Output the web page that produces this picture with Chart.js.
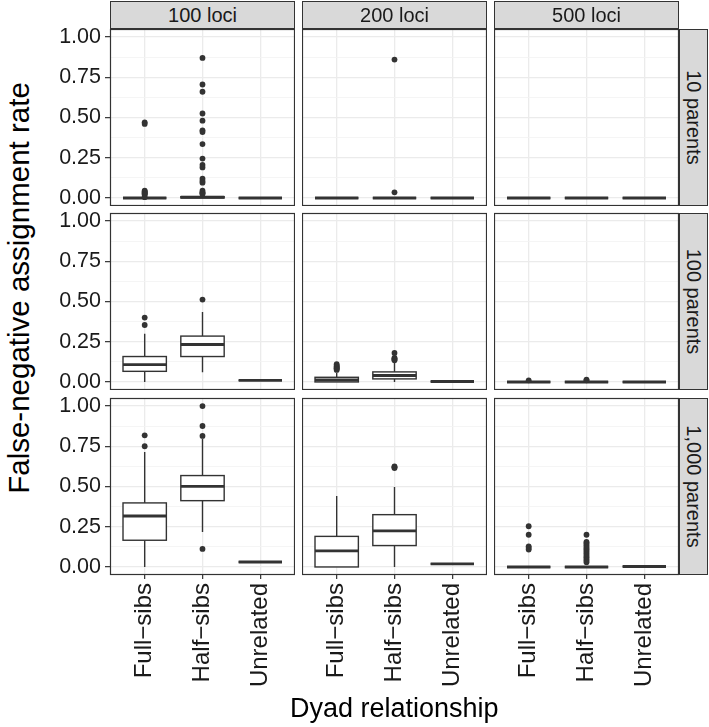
<!DOCTYPE html>
<html>
<head>
<meta charset="utf-8">
<script src="https://cdn.jsdelivr.net/npm/chart.js@4.4.1/dist/chart.umd.min.js"></script>
<style>
  body { margin: 0; background: #fff; font-family: "Liberation Sans", Arial, sans-serif; }
  #wrap { position: relative; width: 709px; height: 727px; overflow: hidden; }
  canvas { position: absolute; }
  .strip {
    position: absolute; background: #d9d9d9; border: 1px solid #333; box-sizing: border-box;
    color: #1a1a1a; font-size: 20px; display: flex; align-items: center; justify-content: center;
    z-index: 2; white-space: nowrap;
  }
  .strip.side span { transform: rotate(90deg); }
  .axis-title { position: absolute; font-size: 27px; color: #000; white-space: nowrap; }
</style>
</head>
<body>
<div id="wrap"></div>
<script>
const FONT = '"Liberation Sans", Arial, sans-serif';

// facets
const lociLabels = ['100 loci', '200 loci', '500 loci'];
const parentLabels = ['10 parents', '100 parents', '1,000 parents'];
const relationships = ['Full\u2212sibs', 'Half\u2212sibs', 'Unrelated'];
const yTicks = [0, 0.125, 0.25, 0.375, 0.5, 0.625, 0.75, 0.875, 1];

// box stats per relationship: [lower whisker, Q1, median, Q3, upper whisker]
// outliers per relationship
const box10p100 = [[0, 0, 0, 0, 0], [0, 0, 0.004, 0.008, 0.02], [0, 0, 0, 0, 0]];
const out10p100 = [
  [0.47, 0.46, 0.045, 0.04, 0.035, 0.03, 0.025, 0.02, 0.005],
  [0.87, 0.705, 0.66, 0.525, 0.48, 0.42, 0.41, 0.335, 0.245, 0.205, 0.19, 0.12, 0.105, 0.095, 0.045, 0.035, 0.03, 0.025],
  []
];
const box10p200 = [[0, 0, 0, 0, 0], [0, 0, 0, 0, 0], [0, 0, 0, 0, 0]];
const out10p200 = [[], [0.86, 0.035], []];
const box10p500 = [[0, 0, 0, 0, 0], [0, 0, 0, 0, 0], [0, 0, 0, 0, 0]];
const out10p500 = [[], [], []];

const box100p100 = [[0, 0.066, 0.108, 0.158, 0.30], [0.06, 0.158, 0.233, 0.285, 0.435], [0.01, 0.01, 0.01, 0.01, 0.01]];
const out100p100 = [[0.40, 0.354], [0.512], []];
const box100p200 = [[0, 0, 0.012, 0.029, 0.056], [0, 0.019, 0.04, 0.0625, 0.12], [0.003, 0.003, 0.003, 0.003, 0.003]];
const out100p200 = [[0.11, 0.1, 0.095, 0.09, 0.085, 0.08, 0.075], [0.18, 0.15, 0.145, 0.14, 0.135], []];
const box100p500 = [[0, 0, 0, 0, 0], [0, 0, 0, 0, 0], [0, 0, 0, 0, 0]];
const out100p500 = [[0.01], [0.015, 0.01], []];

const box1000p100 = [[0, 0.166, 0.317, 0.398, 0.714], [0.217, 0.412, 0.501, 0.568, 0.797], [0.031, 0.031, 0.031, 0.031, 0.031]];
const out1000p100 = [[0.818, 0.75], [1.0, 0.876, 0.814, 0.112], []];
const box1000p200 = [[0, 0, 0.1, 0.19, 0.441], [0, 0.133, 0.224, 0.325, 0.497], [0.019, 0.019, 0.019, 0.019, 0.019]];
const out1000p200 = [[], [0.625, 0.62, 0.615], []];
const box1000p500 = [[0, 0, 0, 0, 0], [0, 0, 0, 0, 0], [0.003, 0.003, 0.003, 0.003, 0.003]];
const out1000p500 = [
  [0.253, 0.2, 0.128, 0.118, 0.108],
  [0.2, 0.155, 0.15, 0.14, 0.13, 0.12, 0.11, 0.1, 0.09, 0.08, 0.07, 0.06, 0.05, 0.04, 0.03],
  []
];

const panels = [
  [[box10p100, out10p100], [box10p200, out10p200], [box10p500, out10p500]],
  [[box100p100, out100p100], [box100p200, out100p200], [box100p500, out100p500]],
  [[box1000p100, out1000p100], [box1000p200, out1000p200], [box1000p500, out1000p500]]
];

// layout (px)
const colLeft = [110, 302, 494];
const rowTop = [29, 213, 398];
const panelW = 185, panelH = 177;
const YW = 62, XH = 122, PAD = 10;

const wrap = document.getElementById('wrap');
const isMajor = v => Math.abs(v * 4 - Math.round(v * 4)) < 1e-6;

// draws boxes and whiskers through the chart scales
function boxPlugin(stats) {
  return {
    id: 'boxes',
    beforeDatasetsDraw(chart) {
      const { ctx, scales: { x, y } } = chart;
      ctx.save();
      ctx.strokeStyle = '#333';
      stats.forEach((s, i) => {
        const cx = x.getPixelForValue(i + 1);
        const hw = x.getPixelForValue(i + 1.375) - cx;
        const [lo, q1, med, q3, hi] = s.map(v => y.getPixelForValue(v));
        ctx.lineWidth = 1.4;
        ctx.beginPath();
        ctx.moveTo(cx, q3); ctx.lineTo(cx, hi);
        ctx.moveTo(cx, q1); ctx.lineTo(cx, lo);
        ctx.stroke();
        ctx.fillStyle = '#fff';
        ctx.fillRect(cx - hw, q3, hw * 2, q1 - q3);
        ctx.strokeRect(cx - hw, q3, hw * 2, q1 - q3);
        ctx.lineWidth = 2.9;
        ctx.beginPath();
        ctx.moveTo(cx - hw, med); ctx.lineTo(cx + hw, med);
        ctx.stroke();
      });
      ctx.restore();
    }
  };
}

const borderPlugin = {
  id: 'panelBorder',
  afterDraw(chart) {
    const { ctx, chartArea: a } = chart;
    ctx.save();
    ctx.strokeStyle = '#333';
    ctx.lineWidth = 1.2;
    ctx.strokeRect(a.left + 0.5, a.top + 0.5, a.width - 1, a.height - 1);
    ctx.restore();
  }
};

panels.forEach((row, r) => {
  row.forEach(([stats, outliers], c) => {
    const showY = c === 0, showX = r === 2;
    const canvas = document.createElement('canvas');
    const w = panelW + (showY ? YW : 0);
    const h = panelH + PAD + (showX ? XH : 0);
    canvas.width = w; canvas.height = h;
    canvas.style.left = (colLeft[c] - (showY ? YW : 0)) + 'px';
    canvas.style.top = (rowTop[r] - PAD) + 'px';
    canvas.style.width = w + 'px'; canvas.style.height = h + 'px';
    wrap.appendChild(canvas);

    const points = [];
    outliers.forEach((vals, i) => vals.forEach(v => points.push({ x: i + 1, y: v })));

    new Chart(canvas, {
      type: 'scatter',
      data: {
        datasets: [{
          data: points,
          pointRadius: 2.9,
          pointHoverRadius: 2.9,
          backgroundColor: '#333',
          borderWidth: 0,
          clip: false
        }]
      },
      options: {
        responsive: false,
        animation: false,
        events: [],
        layout: { autoPadding: false, padding: { top: PAD, left: 0, right: 0, bottom: 0 } },
        plugins: { legend: { display: false }, tooltip: { enabled: false } },
        scales: {
          x: {
            type: 'linear', min: 0.4, max: 3.6,
            afterBuildTicks: s => { s.ticks = [1, 2, 3].map(v => ({ value: v })); },
            afterFit: s => {
              s.height = showX ? XH : 0;
              s.paddingLeft = s.paddingRight = s.paddingTop = s.paddingBottom = 0;
            },
            border: { display: false },
            grid: { color: '#ebebeb', lineWidth: 1.3, drawTicks: showX, tickLength: 4, tickColor: '#333', tickWidth: 1.2 },
            ticks: {
              display: showX, autoSkip: false, minRotation: 90, maxRotation: 90, padding: 4,
              color: '#1a1a1a', font: { size: 24, family: FONT },
              callback: v => relationships[v - 1]
            }
          },
          y: {
            type: 'linear', min: -0.05, max: 1.05,
            afterBuildTicks: s => { s.ticks = yTicks.map(v => ({ value: v })); },
            afterFit: s => {
              s.width = showY ? YW : 0;
              s.paddingLeft = s.paddingRight = s.paddingTop = s.paddingBottom = 0;
            },
            border: { display: false },
            grid: {
              color: ctx => isMajor(ctx.tick.value) ? '#ebebeb' : '#f3f3f3',
              lineWidth: ctx => isMajor(ctx.tick.value) ? 1.3 : 0.8,
              drawTicks: showY, tickLength: 5, tickWidth: 1.2,
              tickColor: ctx => isMajor(ctx.tick.value) ? '#333' : 'rgba(0,0,0,0)'
            },
            ticks: {
              display: showY, autoSkip: false, padding: 4,
              color: '#1a1a1a', font: { size: 21.5, family: FONT },
              callback: v => isMajor(v) ? v.toFixed(2) : ''
            }
          }
        }
      },
      plugins: [boxPlugin(stats), borderPlugin]
    });
  });
});

// top strips
lociLabels.forEach((t, c) => {
  const d = document.createElement('div');
  d.className = 'strip';
  d.style.left = colLeft[c] + 'px'; d.style.top = '1px';
  d.style.width = panelW + 'px'; d.style.height = (rowTop[0] - 1) + 'px';
  d.textContent = t;
  wrap.appendChild(d);
});
// right strips
parentLabels.forEach((t, r) => {
  const d = document.createElement('div');
  d.className = 'strip side';
  d.style.left = (colLeft[2] + panelW) + 'px'; d.style.top = rowTop[r] + 'px';
  d.style.width = '29px'; d.style.height = panelH + 'px';
  const s = document.createElement('span');
  s.textContent = t;
  d.appendChild(s);
  wrap.appendChild(d);
});

// axis titles
const xt = document.createElement('div');
xt.className = 'axis-title';
xt.textContent = 'Dyad relationship';
wrap.appendChild(xt);
xt.style.left = ((colLeft[0] + colLeft[2] + panelW) / 2 - xt.offsetWidth / 2) + 'px';
xt.style.top = (708 - xt.offsetHeight / 2) + 'px';

const yt = document.createElement('div');
yt.className = 'axis-title';
yt.style.fontSize = '29.5px';
yt.textContent = 'False-negative assignment rate';
wrap.appendChild(yt);
yt.style.left = (19 - yt.offsetWidth / 2) + 'px';
yt.style.top = (288 - yt.offsetHeight / 2) + 'px';
yt.style.transform = 'rotate(-90deg)';
</script>
</body>
</html>
